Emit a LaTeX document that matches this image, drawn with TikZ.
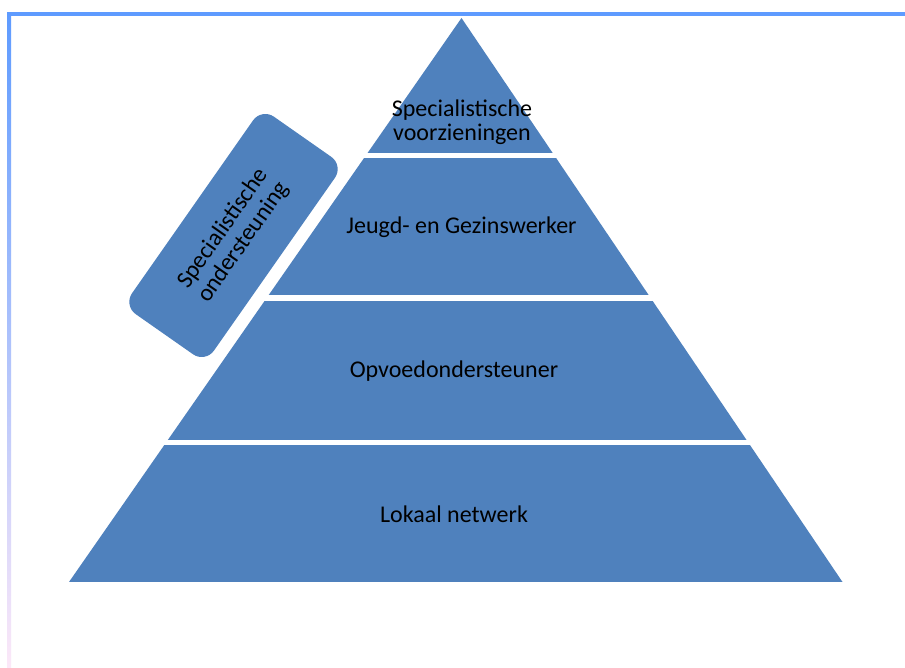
\documentclass[tikz,border=0pt]{standalone}
\usepackage{fontspec}
\setmainfont{Carlito}
\definecolor{frameblue}{RGB}{94,155,255}
\definecolor{pyrblue}{RGB}{79,129,189}
\definecolor{framepink}{RGB}{252,232,248}
\definecolor{framemid}{RGB}{190,208,250}
\begin{document}
\begin{tikzpicture}[x=1pt,y=-1pt,
  lbl/.style={font=\fontsize{24}{24.5}\selectfont, text=black, inner sep=0pt, align=center},
  layer/.style={fill=pyrblue}]
\useasboundingbox (0,0) rectangle (905,668);
\fill[white] (0,0) rectangle (905,668);
% frame
\fill[frameblue] (7,12.5) rectangle (905,16);
\shade[top color=frameblue, middle color=framemid, bottom color=framepink] (7,12.5) rectangle (11,668);
% pyramid
\coordinate (apex) at (461.5,18);
\coordinate (bl) at (69,582);
\coordinate (br) at (842.5,582);
\begin{scope}
  \clip (apex) -- (bl) -- (br) -- cycle;
  \fill[layer] (0,0) rectangle (905,153.5);
  \fill[layer] (0,158) rectangle (905,295.5);
  \fill[layer] (0,301) rectangle (905,439.5);
  \fill[layer] (0,445) rectangle (905,582);
\end{scope}
\node[lbl] (top) at (462,122) {Specialistische\\voorzieningen};
\node[lbl, anchor=base] (jg) at (461.5,234) {Jeugd- en Gezinswerker};
\node[lbl, anchor=base] (op) at (454,377) {Opvoedondersteuner};
\node[lbl, anchor=base] (lk) at (454,522) {Lokaal netwerk};
% side box
\node[fill=pyrblue, rounded corners=15pt, minimum width=241pt, minimum height=100pt, rotate=55, inner sep=0pt] (box) at (233.5,235.5) {};
\node[lbl, rotate=55] (boxtxt) at (box.center) {Specialistische\\ondersteuning};
\end{tikzpicture}
\end{document}
